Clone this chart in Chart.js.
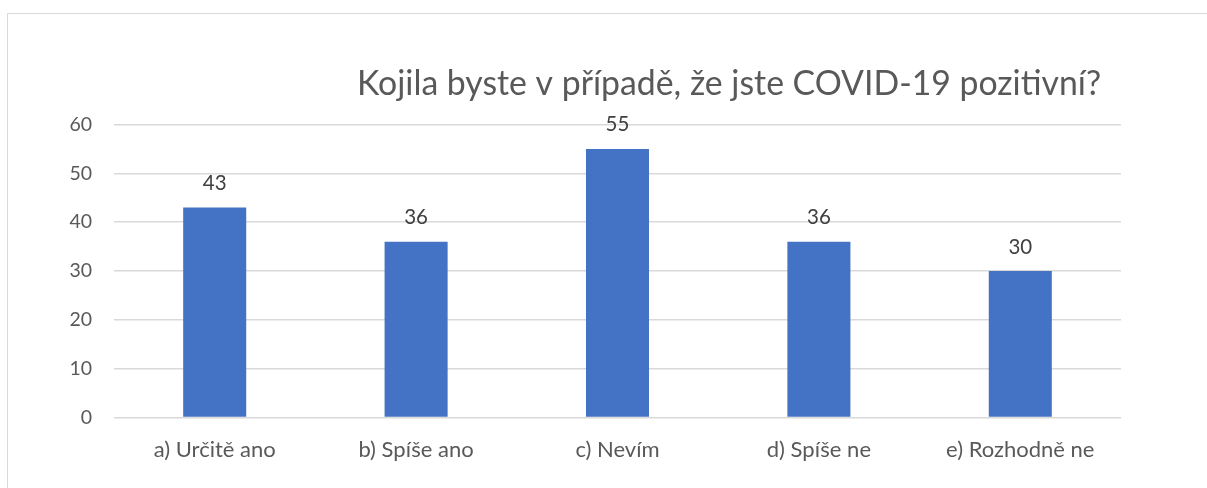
<!DOCTYPE html>
<html><head><meta charset="utf-8">
<script src="https://cdn.jsdelivr.net/npm/chart.js@4"></script>
<style>
html,body{margin:0;padding:0;background:#fff;}
#wrap{position:relative;width:1207px;height:488px;overflow:hidden;}
#frame{position:absolute;left:7px;top:13px;width:1300px;height:600px;border:1.5px solid #d9d9d9;box-sizing:border-box;}
canvas{position:absolute;left:0;top:0;}
</style></head>
<body><div id="wrap"><div id="frame"></div><canvas id="c" width="1207" height="488"></canvas></div>
<script>
const chartTitle = 'Kojila byste v případě, že jste COVID-19 pozitivní?';
const categories = ['a) Určitě ano', 'b) Spíše ano', 'c) Nevím', 'd) Spíše ne', 'e) Rozhodně ne'];
const values = [43, 36, 55, 36, 30];
const yTicks = [0, 10, 20, 30, 40, 50, 60];

const FONT = 'Lato';

const titlePlugin = {
  id: 'offsetTitle',
  afterDraw(chart) {
    const ctx = chart.ctx;
    ctx.save();
    ctx.font = '33.8px ' + FONT;
    ctx.fillStyle = '#595959';
    ctx.textAlign = 'center';
    ctx.textBaseline = 'alphabetic';
    ctx.fillText(chartTitle, 729, 94.5);
    ctx.restore();
  }
};

const valueLabels = {
  id: 'valueLabels',
  afterDatasetsDraw(chart) {
    const ctx = chart.ctx;
    ctx.save();
    ctx.font = '20.5px ' + FONT;
    ctx.fillStyle = '#404040';
    ctx.textAlign = 'center';
    ctx.textBaseline = 'alphabetic';
    chart.getDatasetMeta(0).data.forEach((bar, i) => {
      ctx.fillText(String(values[i]), bar.x, bar.y - 17.5);
    });
    ctx.restore();
  }
};

new Chart(document.getElementById('c'), {
  type: 'bar',
  data: {
    labels: categories,
    datasets: [{
      data: values,
      backgroundColor: '#4472C4',
      borderWidth: 0,
      barPercentage: 0.313,
      categoryPercentage: 1
    }]
  },
  options: {
    responsive: false,
    animation: false,
    layout: { padding: { left: 0, right: 86, top: 124.5, bottom: 0 } },
    plugins: { legend: { display: false }, title: { display: false }, tooltip: { enabled: false } },
    scales: {
      x: {
        grid: { display: false, drawTicks: false },
        border: { display: false },
        ticks: { color: '#595959', font: { family: FONT, size: 22 }, padding: 19, maxRotation: 0 },
        afterFit(scale) { scale.height = 70.5; }
      },
      y: {
        min: 0, max: 60,
        afterBuildTicks(scale) { scale.ticks = yTicks.map(v => ({ value: v })); },
        grid: { color: '#d9d9d9', lineWidth: 1.5, drawTicks: false },
        border: { display: false },
        ticks: { color: '#595959', font: { family: FONT, size: 19.5 }, padding: 22 },
        afterFit(scale) { scale.width = 114; }
      }
    }
  },
  plugins: [titlePlugin, valueLabels]
});
</script>
</body></html>
